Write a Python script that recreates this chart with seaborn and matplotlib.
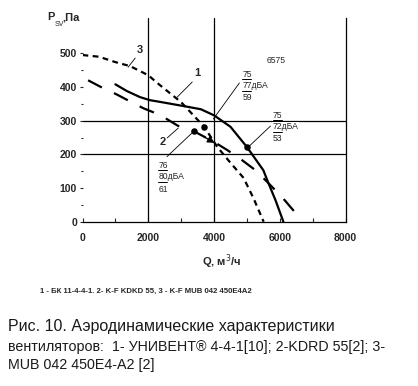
import numpy as np
import pandas as pd
import matplotlib
matplotlib.use("Agg")
import matplotlib.pyplot as plt
import seaborn as sns
from matplotlib.ticker import FixedLocator

# ---- data ----
q1 = [1000, 1350, 1750, 2050, 2350, 3100, 3600, 4000, 4500, 5000, 5500, 5650, 5870, 6110]
p1 = [408, 388, 370, 361, 356, 343, 334, 316, 282, 222, 153, 116, 64, 0]
q2 = [170, 620, 1040, 1470, 1850, 2360, 2900, 3400, 4000, 4400, 4850, 5260, 5660, 6070, 6550]
p2 = [420, 397, 378, 356, 337, 317, 285, 268, 237, 213, 183, 153, 114, 73, 18]
q3 = [0, 500, 1000, 1450, 2000, 2300, 3000, 3700, 4100, 4500, 4900, 5200, 5510]
p3 = [495, 490, 474, 462, 435, 410, 355, 282, 222, 175, 130, 70, 0]
curve_names = ["1", "2", "3"]

x_ticks = [0, 2000, 4000, 6000, 8000]
y_ticks = [0, 100, 200, 300, 400, 500]
x_minor = [1000, 3000, 5000, 7000]
y_minor = [50, 150, 250, 350, 450]

# working points (dots)
pt_q = [5000, 3380, 3700]
pt_p = [222, 269, 282]

df = pd.concat([
    pd.DataFrame({"Q": q1, "P": p1, "curve": curve_names[0]}),
    pd.DataFrame({"Q": q2, "P": p2, "curve": curve_names[1]}),
    pd.DataFrame({"Q": q3, "P": p3, "curve": curve_names[2]}),
])

sns.set_style("ticks")
plt.rcParams["font.family"] = ["Liberation Sans", "DejaVu Sans"]

W, H = 418, 386
fig = plt.figure(figsize=(W / 100, H / 100), dpi=100)
ax = fig.add_axes([82.5 / W, 1 - 221.7 / H, (345.5 - 82.5) / W, (221.7 - 18) / H])

for gx in [2000, 4000]:
    ax.axvline(gx, color="black", lw=0.9, zorder=1)
for gy in [200, 300]:
    ax.axhline(gy, color="black", lw=0.9, zorder=1)

sns.lineplot(data=df, x="Q", y="P", hue="curve", style="curve",
             palette={"1": "black", "2": "black", "3": "black"},
             dashes={"1": "", "2": (7.0, 6.0), "3": (2.6, 2.0)},
             linewidth=1.6, legend=False, sort=False, estimator=None, ax=ax, zorder=3)

sns.scatterplot(x=pt_q, y=pt_p, color="black", s=22, ax=ax, zorder=4, linewidth=0)

# arrowhead at the crossing near 4000
ax.annotate("", xy=(4020, 234), xytext=(3700, 252),
            arrowprops=dict(arrowstyle="-|>", color="black", lw=1.0,
                            shrinkA=0, shrinkB=0, mutation_scale=10), zorder=5)

ax.set_xlim(0, 8000)
ax.set_ylim(0, 605)
ax.set_xlabel("")
ax.set_ylabel("")

for s in ["top", "left"]:
    ax.spines[s].set_visible(False)
for s in ["bottom", "right"]:
    ax.spines[s].set_linewidth(0.9)
    ax.spines[s].set_color("black")

ax.set_xticks(x_ticks)
ax.set_yticks(y_ticks)
ax.xaxis.set_minor_locator(FixedLocator(x_minor))
ax.yaxis.set_minor_locator(FixedLocator(y_minor))
ax.tick_params(axis="x", which="both", direction="in", length=3, width=0.8, pad=8,
               labelsize=7.5, bottom=True, top=False)
ax.tick_params(axis="y", which="major", direction="out", length=2.5, width=0.8, pad=1.5,
               labelsize=7.5, left=True, right=False)
ax.tick_params(axis="y", which="minor", direction="out", length=1.5, width=0.8, left=True, right=False)
for lab in ax.get_xticklabels() + ax.get_yticklabels():
    lab.set_fontweight("bold")

# axis titles
fig.text(47 / W, 1 - 17 / H, "P", fontsize=8, fontweight="bold", va="center", ha="left")
fig.text(55 / W, 1 - 24 / H, "SV", fontsize=5, va="center", ha="left")
fig.text(62 / W, 1 - 17 / H, ",Па", fontsize=8, fontweight="bold", va="center", ha="left")
fig.text(222 / W, 1 - 262 / H, "Q, м$^{3}$/ч", fontsize=8, fontweight="bold",
         va="center", ha="center")

# curve labels with leaders
lk = dict(color="black", lw=0.6)
for txt, tx, ty, lx0, ly0, lx1, ly1 in [
    ("3", 1753, 510, 1604, 486, 1387, 459),
    ("1", 3490, 442, 3339, 415, 2880, 370),
    ("2", 2455, 237, 2577, 249, 2912, 278),
]:
    ax.text(tx, ty, txt, fontsize=8, fontweight="bold", ha="center", va="center")
    ax.plot([lx0, lx1], [ly0, ly1], **lk)

# noise-level labels
def block(x, ys, lines, under):
    for (y, t) in zip(ys, lines):
        ax.text(x, y, t, fontsize=6.2, ha="left", va="center", zorder=5,
                bbox=dict(facecolor="white", edgecolor="none", pad=0.3))
    for uy in under:
        ax.plot([x, x + 270], [uy, uy], color="black", lw=0.7, zorder=6)

block(4863, [436, 404, 369], ["75", "77дБА", "59"], [423, 388])
ax.plot([4772, 3980], [412, 305], **lk)
block(5786, [315, 282, 246], ["75", "72дБА", "53"], [302, 267])
ax.plot([5717, 5046], [284, 222], **lk)
block(2302, [166, 133, 96], ["76", "80дБА", "61"], [153, 119])
ax.plot([2567, 3369], [193, 267], **lk)
ax.text(5900, 480, "6575", fontsize=6.2, ha="center", va="center")

# captions
fig.text(40 / W, 1 - 291 / H, "1 - БК 11-4-4-1. 2- K-F KDKD 55, 3 - K-F MUB 042 450E4A2",
         fontsize=5.6, fontweight="bold", ha="left", va="center")
fig.text(8 / W, 1 - 327 / H, "Рис. 10. Аэродинамические характеристики",
         fontsize=11.5, ha="left", va="center", color="#1a1a1a")
cap = dict(fontsize=10.3, ha="left", va="center", color="#1a1a1a")
fig.text(8 / W, 1 - 347 / H, "вентиляторов:  1- УНИВЕНТ® 4-4-1[10]; 2-KDRD 55[2]; 3-", **cap)
fig.text(8 / W, 1 - 365 / H, "MUB 042 450E4-A2 [2]", **cap)

fig.savefig("out.png", dpi=100, facecolor="white")
